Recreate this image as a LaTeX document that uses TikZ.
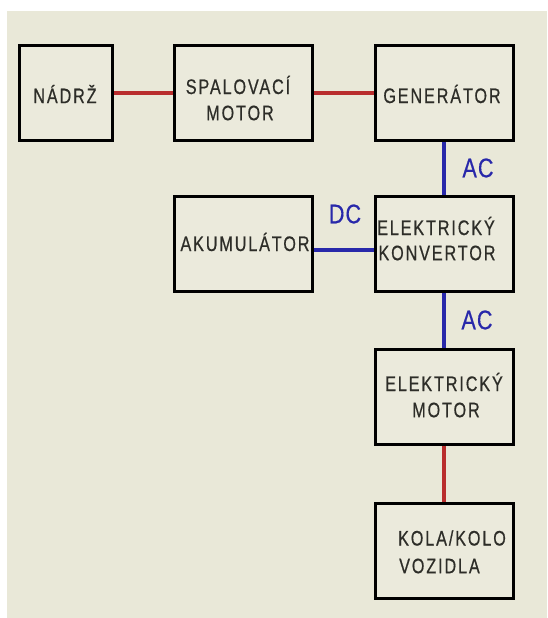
\documentclass[tikz,border=0pt]{standalone}
\usepackage{fontspec}
\newfontfamily\boxfont[FakeStretch=0.77,LetterSpace=9,FakeBold=0.6]{Liberation Sans}
\newfontfamily\tagfont[FakeStretch=0.8,LetterSpace=4,FakeBold=0.4]{Liberation Sans}
\definecolor{bgc}{RGB}{233,232,216}
\definecolor{boxc}{RGB}{235,234,220}
\definecolor{txtc}{RGB}{45,45,40}
\definecolor{redc}{RGB}{185,45,45}
\definecolor{bluec}{RGB}{40,40,170}
\tikzset{
  blk/.style={draw=black, line width=3pt, fill=boxc, inner sep=0pt, minimum width=138pt, minimum height=95pt},
  txt/.style={text=txtc, inner sep=0pt, font=\boxfont\fontsize{21}{21}\selectfont},
  tag/.style={text=bluec, inner sep=0pt, font=\tagfont\fontsize{27}{27}\selectfont},
  redline/.style={draw=redc, line width=3.4pt},
  blueline/.style={draw=bluec, line width=3.4pt}
}
\begin{document}
\begin{tikzpicture}[x=1pt,y=-1pt]
\useasboundingbox (0,0) rectangle (547,618);
\fill[white] (0,0) rectangle (547,618);
\fill[bgc] (7,11) rectangle (547,618);
% boxes
\node[blk, minimum width=93pt] (nadrz) at (66,93) {};
\node[blk] (spal) at (243,93) {};
\node[blk] (gen) at (444,93) {};
\node[blk] (akum) at (243,244) {};
\node[blk] (konv) at (444,244) {};
\node[blk] (emot) at (444,397) {};
\node[blk] (kola) at (444,551) {};
% connectors
\draw[redline] (nadrz.east) -- (spal.west);
\draw[redline] (spal.east) -- (gen.west);
\draw[blueline] (gen.south) -- (konv.north);
\draw[blueline] ([yshift=-6pt]akum.east) -- ([yshift=-6pt]konv.west);
\draw[blueline] (konv.south) -- (emot.north);
\draw[redline] (emot.south) -- (kola.north);
% texts
\node[txt] (t1) at (65,94) {NÁDRŽ};
\node[txt] (t2a) at (238,85) {SPALOVACÍ};
\node[txt] (t2b) at (240,113) {MOTOR};
\node[txt] (t3) at (442,94) {GENERÁTOR};
\node[txt] (t4) at (245,242) {AKUMULÁTOR};
\node[txt] (t5a) at (436,226) {ELEKTRICKÝ};
\node[txt] (t5b) at (437,253) {KONVERTOR};
\node[txt] (t6a) at (444,382) {ELEKTRICKÝ};
\node[txt] (t6b) at (446,410) {MOTOR};
\node[txt] (t7a) at (452,538) {KOLA/KOLO};
\node[txt, anchor=west] (t7b) at (399,566) {VOZIDLA};
\node[tag] (ac1) at (478,168) {AC};
\node[tag] (dc) at (345,214) {DC};
\node[tag] (ac2) at (477,320) {AC};
\end{tikzpicture}
\end{document}
